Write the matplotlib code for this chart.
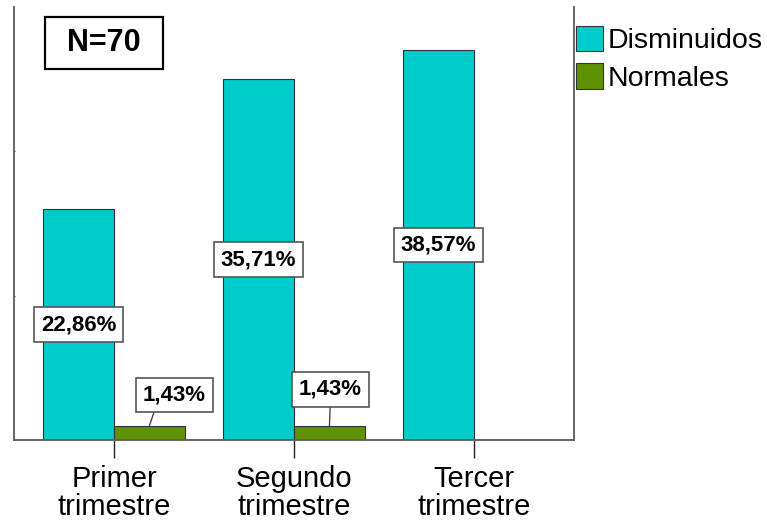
import matplotlib
matplotlib.use('Agg')
import matplotlib.pyplot as plt
from matplotlib.patches import Rectangle
import numpy as np

plt.rcParams['font.family'] = ['Liberation Sans', 'DejaVu Sans']

# Porcentajes por trimestre (N=70)
categories = ['Primer\ntrimestre', 'Segundo\ntrimestre', 'Tercer\ntrimestre']
disminuidos = [22.86, 35.71, 38.57]
normales = [1.43, 1.43, None]
series_names = ['Disminuidos', 'Normales']

cyan = '#00CCCC'
green = '#5F9200'
edge = '#333333'

fig = plt.figure(figsize=(7.67, 5.23), dpi=100)
ax = fig.add_axes([14 / 767, 83 / 523, 560 / 767, 433 / 523])

x = np.arange(len(categories))
w = 0.394

dis_vals = np.array(disminuidos, dtype=float)
nor_vals = np.array([v if v is not None else 0 for v in normales], dtype=float)

b1 = ax.bar(x - w, dis_vals, width=w, align='edge', color=cyan,
            edgecolor=edge, linewidth=0.8, label=series_names[0])
b2 = ax.bar(x, nor_vals, width=w, align='edge', color=green,
            edgecolor=edge, linewidth=0.8, label=series_names[1])

ax.set_xlim(-0.556, 2.556)
ax.set_ylim(0, 30 / 70 * 100)

box = dict(boxstyle='square,pad=0.3', facecolor='white', edgecolor='#555555', linewidth=1.2)

# etiquetas de Disminuidos en el centro de cada barra
for i, v in enumerate(disminuidos):
    ax.text(x[i] - w / 2, v / 2, f'{v:.2f}%'.replace('.', ','), ha='center', va='center',
            fontsize=16, fontweight='bold', bbox=box, zorder=5)

# etiquetas de Normales con linea guia
offsets = [((18, 22), 0.21), ((0.7, 26), 0.5)]
for i, v in enumerate(normales):
    if v is None:
        continue
    (dx, dy), rx = offsets[i]
    ax.annotate(f'{v:.2f}%'.replace('.', ','), xy=(x[i] + w / 2, v),
                xytext=(dx, dy), textcoords='offset points', ha='center', va='center',
                fontsize=16, fontweight='bold', bbox=box, zorder=5,
                arrowprops=dict(arrowstyle='-', color='#444444', lw=1.0,
                                relpos=(rx, 0), shrinkA=0, shrinkB=0))

ax.set_xticks(x)
ax.set_xticklabels(categories, fontsize=21, linespacing=1.0)
ax.tick_params(axis='x', length=13, width=1.0, color='#222222', pad=5)
ax.set_yticks(np.array([10, 20]) / 70 * 100)
ax.set_yticklabels([])
ax.tick_params(axis='y', length=2, width=1.0, color='#555555', direction='inout')

for s in ['left', 'right', 'bottom']:
    ax.spines[s].set_color('#5a5a5a')
    ax.spines[s].set_linewidth(1.3)
ax.spines['top'].set_visible(False)

# recuadro con el tamano de muestra
fig.patches.append(Rectangle((45 / 767, 1 - 69 / 523), 118 / 767, 52 / 523,
                             transform=fig.transFigure, facecolor='white',
                             edgecolor='black', linewidth=1.6))
fig.text(104 / 767, 1 - 43 / 523, 'N=70', ha='center', va='center',
         fontsize=22, fontweight='bold')

fig.legend(handles=[b1, b2], loc='upper left', bbox_to_anchor=(576 / 767, 1 - 26 / 523),
           frameon=False, fontsize=20.5, handlelength=0.95, handleheight=1.0,
           handletextpad=0.15, borderpad=0, borderaxespad=0, labelspacing=0.3)

fig.savefig('out.png', dpi=100)
